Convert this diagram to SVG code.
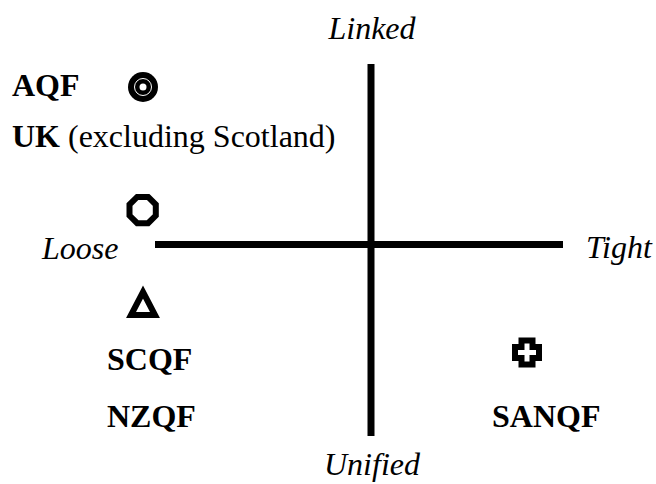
<svg xmlns="http://www.w3.org/2000/svg" width="656" height="484" viewBox="0 0 656 484">
<style>
.b{font-family:"Liberation Serif","Times New Roman",serif;font-size:32px;font-weight:bold;fill:#000}
.r{font-weight:normal}
.i{font-family:"Liberation Serif","Times New Roman",serif;font-size:32px;font-style:italic;fill:#000}
.ax{stroke:#000;stroke-width:7;fill:none}
.sym{stroke:#000;stroke-width:6;fill:#fff;stroke-linejoin:miter}
</style>
<rect width="656" height="484" fill="#fff"/>
<g id="axes">
<line class="ax" x1="371" y1="64" x2="371" y2="436"/>
<line class="ax" x1="155" y1="244.5" x2="563" y2="244.5"/>
</g>
<g id="axis-labels">
<text class="i" x="372" y="39" text-anchor="middle">Linked</text>
<text class="i" x="372" y="475" text-anchor="middle">Unified</text>
<text class="i" x="42" y="259">Loose</text>
<text class="i" x="586" y="258">Tight</text>
</g>
<g id="aqf">
<text class="b" x="12" y="96">AQF</text>
<circle cx="143" cy="87" r="15" fill="#000"/>
<circle cx="143" cy="87" r="8.5" fill="none" stroke="#fff" stroke-width="1"/>
<circle cx="143" cy="87" r="3.5" fill="#fff"/>
</g>
<g id="uk">
<text class="b" x="12" y="147">UK <tspan class="r">(excluding Scotland)</tspan></text>
<polygon class="sym" points="148.1,197.7 155.8,205.4 155.8,216.3 148.1,224.0 137.2,224.0 129.5,216.3 129.5,205.4 137.2,197.7" transform="translate(0,-0.8)"/>
</g>
<g id="scqf">
<polygon class="sym" points="143,292 155,315 131,315"/>
<text class="b" x="107" y="370">SCQF</text>
</g>
<g id="nzqf">
<text class="b" x="107" y="427">NZQF</text>
</g>
<g id="sanqf">
<path class="sym" d="M521.5,340.5 h11 v6.5 h6.5 v11 h-6.5 v6.5 h-11 v-6.5 h-6.5 v-11 h6.5 z"/>
<text class="b" x="492" y="427">SANQF</text>
</g>
</svg>
